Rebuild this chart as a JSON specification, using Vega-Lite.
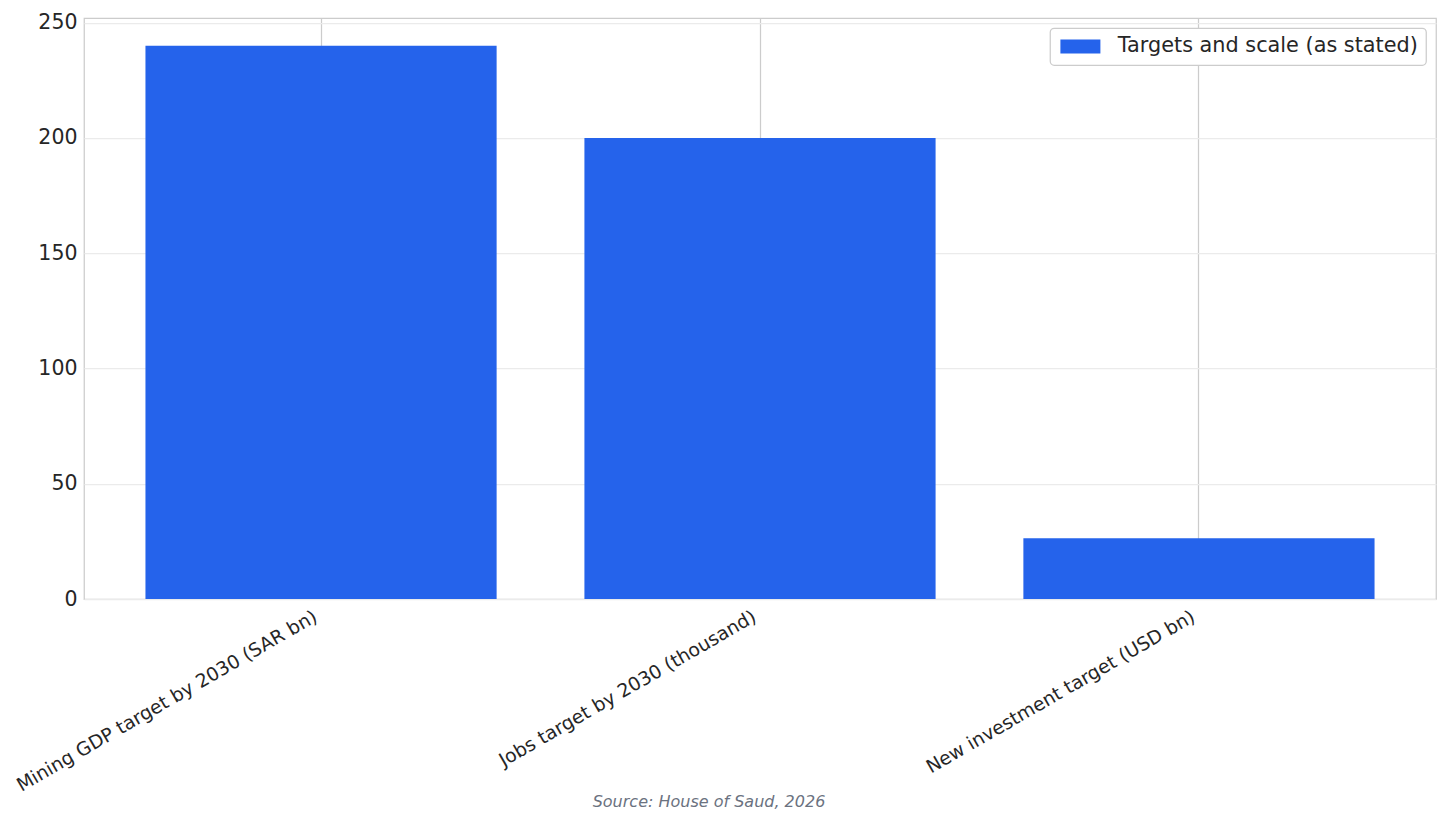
{
  "$schema": "https://vega.github.io/schema/vega-lite/v6.json",
  "width": 1352,
  "height": 581,
  "autosize": {"type": "none"},
  "padding": {"left": 84, "top": 18, "right": 15, "bottom": 225},
  "background": "white",
  "data": {
    "values": [
      {"metric": "Mining GDP target by 2030 (SAR bn)", "value": 240, "series": "Targets and scale (as stated)"},
      {"metric": "Jobs target by 2030 (thousand)", "value": 200, "series": "Targets and scale (as stated)"},
      {"metric": "New investment target (USD bn)", "value": 26.3, "series": "Targets and scale (as stated)"}
    ]
  },
  "title": {
    "text": "Source: House of Saud, 2026",
    "orient": "bottom",
    "anchor": "middle",
    "frame": "group",
    "dx": -51,
    "offset": -1,
    "font": "DejaVu Sans",
    "fontSize": 16,
    "fontStyle": "italic",
    "fontWeight": "normal",
    "color": "#6b7280"
  },
  "mark": {"type": "bar"},
  "encoding": {
    "x": {
      "field": "metric",
      "type": "nominal",
      "sort": null,
      "title": null,
      "scale": {"paddingInner": 0.2, "paddingOuter": 0.14},
      "axis": {
        "labelAngle": -30,
        "labelAlign": "right",
        "labelBaseline": "top",
        "labelFontSize": 18.8,
        "labelPadding": 8,
        "labelOffset": -10,
        "labelLimit": 0,
        "ticks": false,
        "domain": false,
        "grid": true,
        "bandPosition": 0.5,
        "gridColor": "#cccccc",
        "gridWidth": 1.25
      }
    },
    "y": {
      "field": "value",
      "type": "quantitative",
      "title": null,
      "scale": {"domain": [0, 252], "nice": false, "zero": true},
      "axis": {
        "values": [0, 50, 100, 150, 200, 250],
        "labelFontSize": 20.5,
        "labelPadding": 7,
        "ticks": false,
        "domain": false,
        "grid": true,
        "gridColor": "#ebebeb",
        "gridWidth": 1.25
      }
    },
    "color": {
      "field": "series",
      "type": "nominal",
      "scale": {"domain": ["Targets and scale (as stated)"], "range": ["#2563eb"]},
      "legend": {
        "title": null,
        "orient": "top-right",
        "offset": 10,
        "padding": 8,
        "symbolType": "M-2.857,-1H2.857V1H-2.857Z",
        "symbolSize": 196,
        "symbolOffset": 12,
        "symbolStrokeWidth": 0,
        "labelFontSize": 20.8,
        "labelOffset": 27,
        "labelLimit": 0,
        "fillColor": "white",
        "strokeColor": "#cccccc",
        "cornerRadius": 4
      }
    }
  },
  "config": {
    "font": "DejaVu Sans",
    "view": {"stroke": "#cccccc", "strokeWidth": 1.25},
    "axis": {"labelColor": "#262626", "labelFont": "DejaVu Sans"},
    "legend": {"labelColor": "#262626", "labelFont": "DejaVu Sans", "strokeWidth": 1.25}
  }
}
